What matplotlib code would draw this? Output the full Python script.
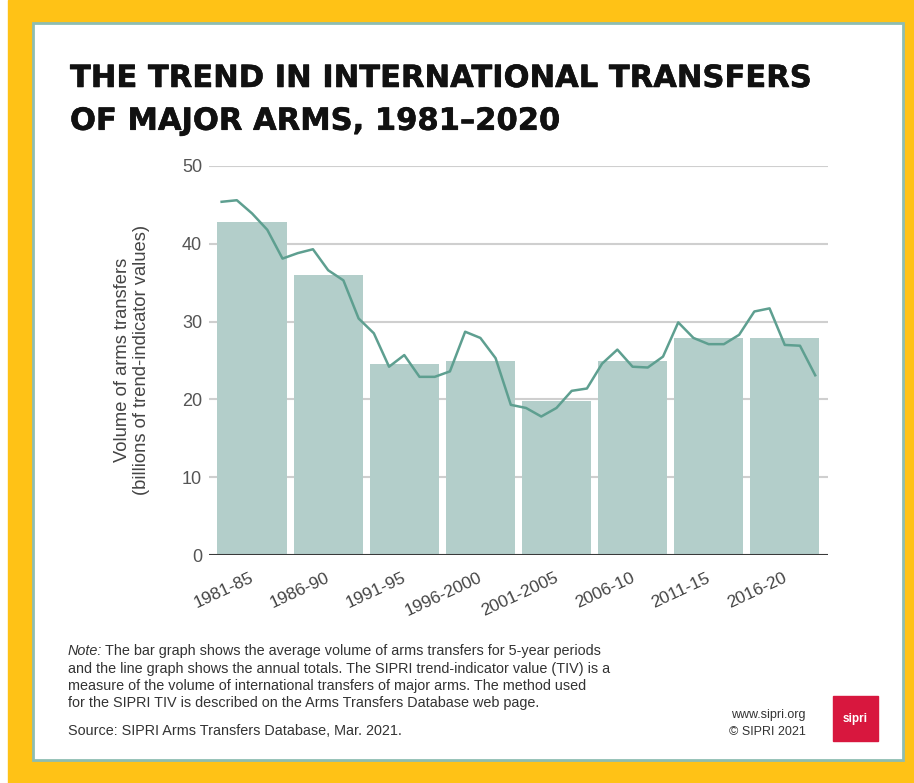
import matplotlib.pyplot as plt
import matplotlib.patheffects as pe
from matplotlib.patches import Rectangle

# 5-year period averages (bars)
periods = ['1981-85', '1986-90', '1991-95', '1996-2000',
           '2001-2005', '2006-10', '2011-15', '2016-20']
period_start = [1981, 1986, 1991, 1996, 2001, 2006, 2011, 2016]
period_avg = [42.8, 36.0, 24.5, 24.9, 19.8, 25.0, 27.9, 27.9]

# annual totals (line)
years = list(range(1981, 2021))
annual = [45.4, 45.6, 43.9, 41.8, 38.1, 38.8, 39.3, 36.6, 35.3, 30.4,
          28.5, 24.2, 25.7, 22.9, 22.9, 23.6, 28.7, 27.9, 25.3, 19.3,
          18.9, 17.8, 18.9, 21.1, 21.4, 24.6, 26.4, 24.2, 24.1, 25.5,
          29.9, 27.9, 27.1, 27.1, 28.3, 31.3, 31.7, 27.0, 26.9, 23.1]

y_ticks = [0, 10, 20, 30, 40, 50]

W, H = 914, 783
yellow = '#ffc216'
bar_col = '#b3ceca'
line_col = '#5e9f90'


def fx(px):
    return px / W


def fy(py):
    return 1 - py / H


fig = plt.figure(figsize=(W / 100, H / 100), dpi=100)
fig.patch.set_facecolor('white')

# frame
fig.patches.append(Rectangle((fx(8), 0), 1, 1, transform=fig.transFigure,
                             color=yellow, zorder=0))
fig.patches.append(Rectangle((fx(33), fy(760)), fx(903 - 33), (760 - 23) / H,
                             transform=fig.transFigure, facecolor='white',
                             edgecolor='#8dbdb2', lw=2, zorder=1))

# title
fig.text(fx(70), fy(64), 'THE TREND IN INTERNATIONAL TRANSFERS\nOF MAJOR ARMS, 1981\u20132020',
         family='DejaVu Sans', weight='bold', fontsize=22, va='top',
         ha='left', linespacing=1.6, color='#111111',
         path_effects=[pe.withStroke(linewidth=0.4, foreground='#111111')])

ax = fig.add_axes([fx(209), fy(555), fx(828 - 209), (555 - 166) / H])
ax.set_zorder(2)
ax.bar([s + 2 for s in period_start], period_avg, width=4.55,
       color=bar_col, zorder=2)
ax.plot(years, annual, color=line_col, lw=1.8, zorder=3)

ax.set_xlim(1980.17, 2020.84)
ax.set_ylim(0, 50)
ax.set_yticks(y_ticks)
ax.yaxis.grid(True, color='#cfcfcf', lw=1.5, zorder=0)
ax.axhline(0, color='#3a3a3a', lw=2.2, zorder=4)
for s in ['top', 'right', 'left', 'bottom']:
    ax.spines[s].set_visible(False)
ax.tick_params(axis='y', length=0, pad=5, labelsize=13, labelcolor='#555555')
for lab in ax.get_yticklabels():
    lab.set_family('Liberation Sans')

ax.set_xticks([s + 1.85 for s in period_start])
ax.set_xticklabels(periods, rotation=25, ha='right', va='top',
                   rotation_mode='anchor', family='Liberation Sans',
                   fontsize=12.5, color='#444444')
ax.tick_params(axis='x', length=0, pad=11)

fig.text(fx(132), fy(360), 'Volume of arms transfers\n(billions of trend-indicator values)',
         family='Liberation Sans', fontsize=13.2, color='#444444',
         rotation=90, ha='center', va='center', linespacing=1.22)

# note block
note_font = dict(family='Liberation Sans', fontsize=10.4, color='#333333',
                 va='baseline', ha='left')
note_lines = ['The bar graph shows the average volume of arms transfers for 5-year periods',
              'and the line graph shows the annual totals. The SIPRI trend-indicator value (TIV) is a',
              'measure of the volume of international transfers of major arms. The method used',
              'for the SIPRI TIV is described on the Arms Transfers Database web page.']
r = fig.canvas.get_renderer()
t = fig.text(fx(68), fy(655), 'Note:', style='italic', **note_font)
w = t.get_window_extent(renderer=r).width / W
fig.text(fx(68) + w + fx(3), fy(655), note_lines[0], **note_font)
for i, ln in enumerate(note_lines[1:]):
    fig.text(fx(68), fy(655 + 17.5 * (i + 1)), ln, **note_font)
fig.text(fx(68), fy(735), 'Source: SIPRI Arms Transfers Database, Mar. 2021.', **note_font)

fig.text(fx(806), fy(718), 'www.sipri.org', family='Liberation Sans',
         fontsize=9, color='#333333', ha='right', va='baseline')
fig.text(fx(806), fy(735), '\u00a9 SIPRI 2021', family='Liberation Sans',
         fontsize=9, color='#333333', ha='right', va='baseline')

# logo
fig.patches.append(Rectangle((fx(833), fy(741)), fx(878 - 833), (741 - 696) / H,
                             transform=fig.transFigure, color='#d8173e', zorder=3))
fig.text(fx(855.5), fy(719), 'sipri', family='Liberation Sans', weight='bold',
         fontsize=8.5, color='white', ha='center', va='center', zorder=4)

fig.savefig('out.png', dpi=100)
